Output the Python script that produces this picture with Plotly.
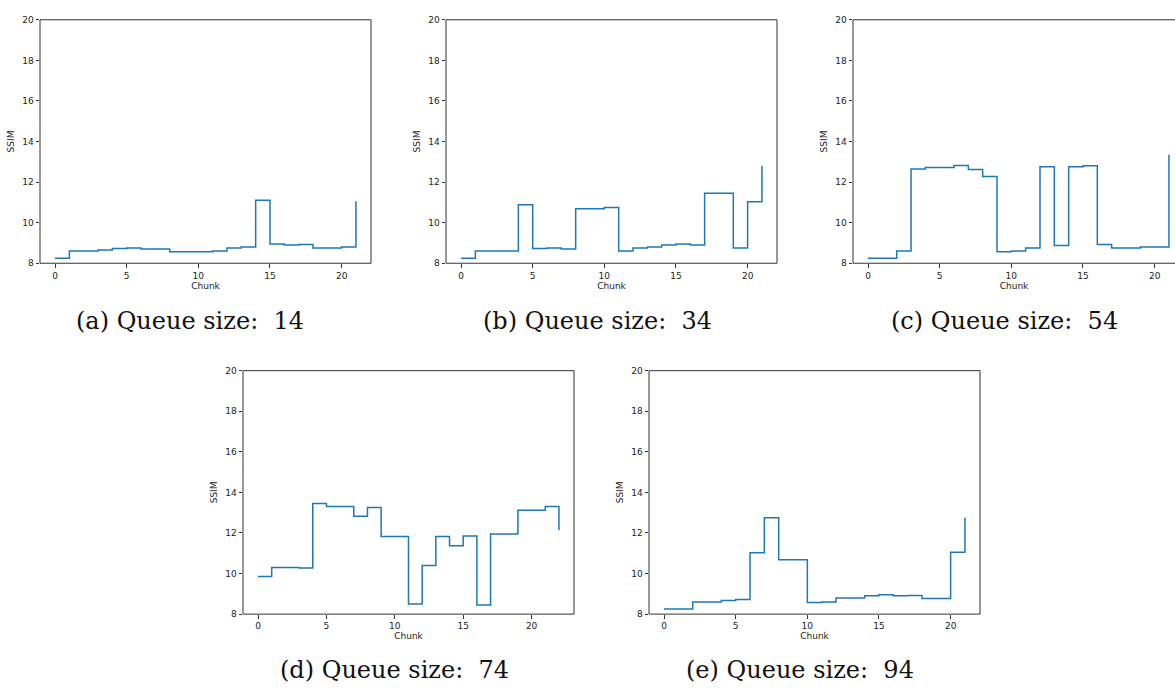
import plotly.graph_objects as go

W, H = 1175, 696

chunks_a = list(range(22))
ssim_a = [8.25, 8.6, 8.6, 8.65, 8.72, 8.75, 8.7, 8.7, 8.57, 8.57, 8.57,
          8.6, 8.75, 8.8, 11.1, 8.95, 8.9, 8.92, 8.75, 8.75, 8.8, 11.05]

chunks_b = list(range(22))
ssim_b = [8.25, 8.6, 8.6, 8.6, 10.88, 8.72, 8.75, 8.7, 10.68, 10.68, 10.75,
          8.6, 8.75, 8.8, 8.9, 8.95, 8.9, 11.45, 11.45, 8.75, 11.03, 12.8]

chunks_c = list(range(22))
ssim_c = [8.25, 8.25, 8.6, 12.65, 12.72, 12.72, 12.82, 12.62, 12.28, 8.57, 8.6,
          8.75, 12.75, 8.88, 12.75, 12.8, 8.92, 8.75, 8.75, 8.8, 8.8, 13.35]

chunks_d = list(range(23))
ssim_d = [9.85, 10.3, 10.3, 10.27, 13.45, 13.3, 13.3, 12.83, 13.25, 11.82, 11.82,
          8.5, 10.4, 11.82, 11.37, 11.85, 8.45, 11.95, 11.95, 13.12, 13.12, 13.3, 12.15]

chunks_e = list(range(22))
ssim_e = [8.25, 8.25, 8.6, 8.6, 8.67, 8.72, 11.02, 12.75, 10.68, 10.68, 8.57,
          8.6, 8.8, 8.8, 8.9, 8.95, 8.9, 8.92, 8.77, 8.77, 11.05, 12.75]

captions = ["(a) Queue size:  14", "(b) Queue size:  34", "(c) Queue size:  54",
            "(d) Queue size:  74", "(e) Queue size:  94"]

y_ticks = [8, 10, 12, 14, 16, 18, 20]
x_ticks = [0, 5, 10, 15, 20]

# panel boxes in pixels: left, right, top, bottom
panels = [
    (40, 371, 15, 262),
    (446, 777, 15, 262),
    (853, 1184, 15, 262),
    (243, 574, 371, 618),
    (649, 980, 371, 618),
]
caption_pos = [(190, 321), (597, 321), (1004, 321), (394, 675), (800, 675)]

datasets = [(chunks_a, ssim_a), (chunks_b, ssim_b), (chunks_c, ssim_c),
            (chunks_d, ssim_d), (chunks_e, ssim_e)]

fig = go.Figure()
axis_color = "#333333"
font_tick = dict(family="DejaVu Sans", size=9, color="#222222")

for i, ((xs, ys), (l, r, t, b)) in enumerate(zip(datasets, panels)):
    n = i + 1
    xa = "x" if n == 1 else f"x{n}"
    ya = "y" if n == 1 else f"y{n}"
    fig.add_trace(go.Scatter(x=xs, y=ys, mode="lines", line_shape="hv",
                             line=dict(color="#1f77b4", width=1.5),
                             xaxis=xa, yaxis=ya, showlegend=False,
                             hoverinfo="skip"))
    xmin, xmax = min(xs), max(xs)
    span = xmax - xmin
    lo, hi = xmin - 0.05 * span, xmax + 0.05 * span
    full_w = r - l
    r_clip = min(r, W)
    vis_w = r_clip - l
    hi_vis = lo + (hi - lo) * vis_w / full_w
    xkey = "xaxis" if n == 1 else f"xaxis{n}"
    ykey = "yaxis" if n == 1 else f"yaxis{n}"
    fig.layout[xkey] = dict(
        domain=[l / W, r_clip / W], range=[lo, hi_vis], anchor=ya,
        tickvals=x_ticks, ticks="outside", ticklen=3.5, tickwidth=1,
        tickcolor=axis_color, showgrid=False, zeroline=False,
        showline=False, tickfont=font_tick,
        title=dict(text="Chunk", font=dict(family="DejaVu Sans", size=9, color="#222222"),
                   standoff=2),
    )
    fig.layout[ykey] = dict(
        domain=[1 - b / H, 1 - t / H], range=[8, 20], anchor=xa,
        tickvals=y_ticks, ticks="outside", ticklen=3.5, tickwidth=1,
        tickcolor=axis_color, showgrid=False, zeroline=False,
        showline=False, tickfont=font_tick,
        title=dict(text="SSIM", font=dict(family="DejaVu Sans", size=9, color="#222222"),
                   standoff=6),
    )
    # frame
    fig.add_shape(type="rect", xref=f"{xa} domain", yref=f"{ya} domain",
                  x0=0, x1=full_w / vis_w, y0=0, y1=1,
                  line=dict(color=axis_color, width=1), layer="above")
    cx, cy = caption_pos[i]
    fig.add_annotation(x=cx / W, y=1 - cy / H, xref="paper", yref="paper",
                       text=captions[i].replace("  ", "&nbsp; "), showarrow=False,
                       font=dict(family="DejaVu Serif", size=24, color="#111111"),
                       xanchor="center", yanchor="middle")

fig.update_layout(width=W, height=H, margin=dict(l=0, r=0, t=0, b=0),
                  paper_bgcolor="white", plot_bgcolor="white")

fig.write_html("out.html")
